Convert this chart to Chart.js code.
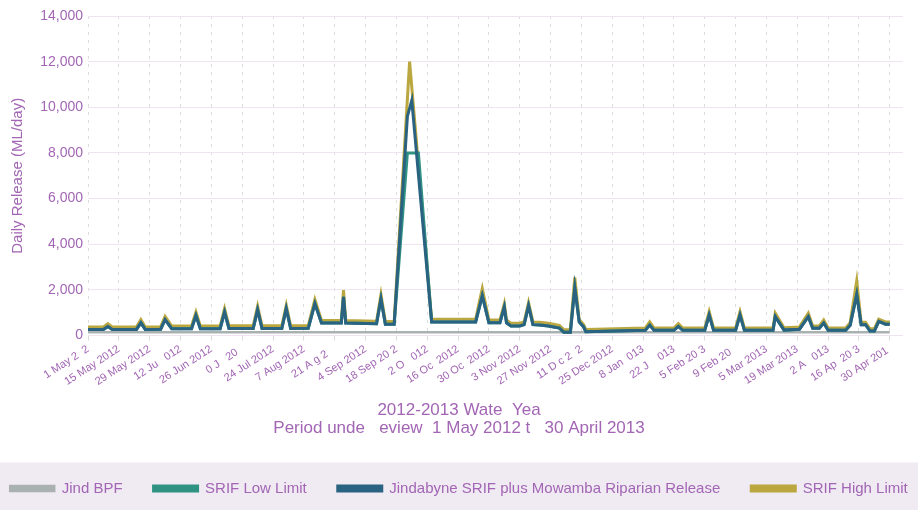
<!DOCTYPE html>
<html>
<head>
<meta charset="utf-8">
<script src="https://cdn.jsdelivr.net/npm/chart.js@4.4.1/dist/chart.umd.min.js"></script>
<style>
  html, body { margin: 0; padding: 0; background: #fff; }
  #wrap { width: 918px; height: 510px; }
</style>
</head>
<body>
<div id="wrap"><canvas id="releaseChart"></canvas></div>
<script>
// days since 1 May 2012 where the lines change direction
const days = [0, 7, 9, 11, 22, 24, 26, 33, 35, 38, 47, 49, 51, 60, 62, 64, 75, 77, 79, 88, 90, 92,
  100, 103, 106, 115, 116, 117, 131, 133, 135, 139, 145, 146, 147, 150, 156, 176, 179, 182, 187, 189, 190,
  192, 196, 198, 200, 202, 205, 209, 214, 216, 219, 221, 223, 225, 226, 253, 255, 257, 266, 268, 270,
  280, 282, 284, 294, 296, 298, 311, 312, 316, 323, 327, 329, 332, 334, 336, 344, 346, 349, 351, 353,
  355, 357, 359, 362, 364];

// Jindabyne SRIF plus Mowamba Riparian Release (ML/day)
const release = [270, 270, 400, 270, 270, 560, 270, 280, 700, 300, 300, 880, 300, 300, 1030, 310, 310, 1130, 310, 310, 1180, 310,
  320, 1400, 550, 550, 1700, 550, 520, 1600, 500, 500, 9600, null, 10300, null, 600, 600, 1750, 560, 560, 1250, 560,
  420, 420, 480, 1300, 480, 460, 420, 330, 150, 150, 2100, 600, 380, 170, 230, 460, 230, 230, 400, 230,
  230, 900, 230, 230, 900, 230, 230, 830, 240, 280, 830, 320, 320, 550, 230, 230, 450, 1800, 480, 480,
  200, 200, 620, 500, 500];

// SRIF Low Limit
const lowLimit = [270, 270, 400, 270, 270, 560, 270, 280, 700, 300, 300, 880, 300, 300, 1030, 310, 310, 1130, 310, 310, 1180, 310,
  320, 1400, 550, 550, 1700, 550, 520, 1600, 500, 500, 8000, null, null, 8000, 600, 600, 1750, 560, 560, 1250, 560,
  420, 420, 480, 1300, 480, 460, 420, 330, 150, 150, 2100, 600, 380, 170, 230, 460, 230, 230, 400, 230,
  230, 900, 230, 230, 900, 230, 230, 830, 240, 280, 830, 320, 320, 550, 230, 230, 450, 1800, 480, 480,
  200, 200, 620, 500, 500];

// SRIF High Limit
const highLimit = [380, 380, 520, 380, 380, 700, 380, 390, 840, 420, 420, 1030, 420, 420, 1180, 430, 430, 1290, 430, 430, 1330, 430,
  440, 1580, 660, 660, 1990, 660, 630, 1800, 620, 620, null, 12000, null, null, 720, 720, 2060, 680, 680, 1400, 680,
  540, 540, 600, 1450, 600, 580, 540, 450, 260, 260, 2550, 700, 480, 270, 330, 600, 330, 330, 520, 330,
  330, 1050, 330, 330, 1050, 330, 330, 980, 340, 380, 980, 420, 420, 680, 330, 330, 560, 2400, 580, 580,
  300, 300, 720, 600, 600];

// Jind BPF
const bpfDays = [0, 364];
const bpf = [150, 150];

const tickDays = [0, 14, 28, 42, 56, 70, 84, 98, 112, 126, 140, 154, 168, 182, 196, 210, 224, 238, 252,
  266, 280, 294, 308, 322, 336, 350, 364];
const tickLabels = ["1 May 2  2", "15 May 2012", "29 May 2012", "12 Ju   012", "26 Jun 2012", "0 J   20  ",
  "24 Jul 2012", "7 Aug 2012", "21 A g 2   ", "4 Sep 2012", "18 Sep 20 2", "2 O   012", "16 Oc  2012",
  "30 Oc  2012", "3 Nov 2012", "27 Nov 2012", "11 D c 2  2", "25 Dec 2012", "8 Jan  013", "22 J    013",
  "5 Feb 20 3", "9 Feb 20  ", "5 Mar 2013", "19 Mar 2013", "2 A   013", "16 Ap  20 3", "30 Apr 201 "];

const purple = '#a266b4';
const font = 'Liberation Sans, Arial, sans-serif';
const gap = '      '; // legend text runs need more room than labels.padding allows on one row
const legendPad = 6;

function pts(xs, ys) {
  return xs.map((d, i) => ({ x: d, y: ys[i] }));
}

// lavender band behind the legend
const legendBand = {
  id: 'legendBand',
  beforeDraw(chart) {
    const c = chart.ctx;
    const top = chart.legend.top + legendPad + 7.5 - 26;
    c.save();
    c.fillStyle = '#f0eaf3';
    c.fillRect(0, top, chart.width, chart.height - top);
    c.restore();
  }
};

const ctx = document.getElementById('releaseChart');

new Chart(ctx, {
  type: 'line',
  data: {
    datasets: [
      {
        label: 'Jind BPF' + gap,
        data: pts(bpfDays, bpf),
        borderColor: '#a9b1b1',
        backgroundColor: '#a9b1b1',
        borderWidth: 2.5,
        order: 3
      },
      {
        label: 'SRIF Low Limit' + gap,
        data: pts(days, lowLimit),
        borderColor: '#2f9282',
        backgroundColor: '#2f9282',
        borderWidth: 3,
        order: 1
      },
      {
        label: 'Jindabyne SRIF plus Mowamba Riparian Release' + gap,
        data: pts(days, release),
        borderColor: '#2a6282',
        backgroundColor: '#2a6282',
        borderWidth: 3,
        order: 0
      },
      {
        label: 'SRIF High Limit',
        data: pts(days, highLimit),
        borderColor: '#bba73f',
        backgroundColor: '#bba73f',
        borderWidth: 3,
        order: 2
      }
    ]
  },
  options: {
    responsive: true,
    maintainAspectRatio: false,
    animation: false,
    spanGaps: true,
    elements: {
      point: { radius: 0 },
      line: { tension: 0, borderJoinStyle: 'miter' }
    },
    layout: { padding: { top: 16, right: 0, left: 0, bottom: 4 } },
    scales: {
      x: {
        type: 'linear',
        min: 0,
        max: 370,
        afterBuildTicks: axis => {
          axis.ticks = tickDays.map(d => ({ value: d }));
        },
        ticks: {
          autoSkip: false,
          minRotation: 33,
          maxRotation: 33,
          padding: 2,
          color: purple,
          font: { family: font, size: 11 },
          callback: v => tickLabels[tickDays.indexOf(v)]
        },
        grid: { color: '#dddddd', tickLength: 5 },
        border: { display: false, dash: [3, 5] }
      },
      y: {
        min: 0,
        max: 14000,
        afterFit: s => { s.width = 88; },
        ticks: {
          stepSize: 2000,
          padding: 5,
          color: purple,
          font: { family: font, size: 14 },
          callback: v => v.toLocaleString('en-US')
        },
        grid: { color: '#eee5f1', drawTicks: false },
        border: { display: false },
        title: {
          display: true,
          text: 'Daily Release (ML/day)',
          color: purple,
          font: { family: font, size: 15 },
          padding: { top: 9, bottom: 0 }
        }
      },
      // empty axis that only keeps the right margin
      yRight: {
        position: 'right',
        afterFit: s => { s.width = 15; },
        ticks: { display: false },
        grid: { display: false },
        border: { display: false }
      }
    },
    plugins: {
      title: {
        display: true,
        position: 'bottom',
        weight: 500,
        text: ['2012-2013 Wate  Yea', 'Period unde   eview  1 May 2012 t   30 April 2013'],
        color: purple,
        font: { family: font, size: 17, weight: 'normal', lineHeight: 1.05 },
        padding: { top: 11, bottom: 38 }
      },
      legend: {
        position: 'bottom',
        labels: {
          boxWidth: 44,
          boxHeight: 5,
          padding: legendPad,
          color: purple,
          font: { family: font, size: 15 },
          sort: (a, b) => a.datasetIndex - b.datasetIndex
        }
      },
      tooltip: { enabled: false }
    }
  },
  plugins: [legendBand]
});
</script>
</body>
</html>
